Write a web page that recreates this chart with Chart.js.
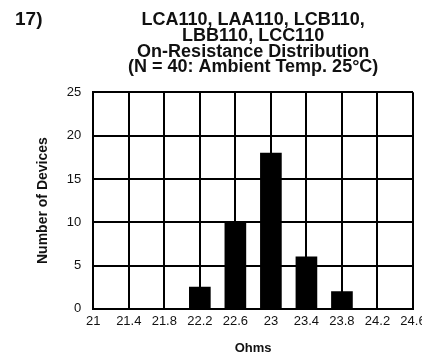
<!DOCTYPE html>
<html lang="en">
<head>
    <meta charset="UTF-8">
    <title>On-Resistance Distribution</title>
    <script src="https://cdn.jsdelivr.net/npm/chart.js"></script>
    <style>
        html, body { margin: 0; padding: 0; background: #fff; }
        #wrap { position: relative; width: 422px; height: 358px; }
        #fig { position: absolute; left: 15px; top: 8px; font: bold 19px "Liberation Sans", Arial, sans-serif; color: #111; }
    </style>
</head>
<body>
    <div id="wrap">
        <canvas id="distChart" width="422" height="358"></canvas>
        <div id="fig">17)</div>
    </div>

    <script>
        // ohms bins and device counts
        const ohms = [22.2, 22.6, 23.0, 23.4, 23.8];
        const devices = [2.5, 10, 18, 6, 2];
        const xMin = 21, xMax = 24.6, xStep = 0.4;
        const yMax = 25, yStep = 5;
        const titleLines = [
            'LCA110, LAA110, LCB110,',
            'LBB110, LCC110',
            'On-Resistance Distribution',
            '(N = 40: Ambient Temp. 25°C)'
        ];

        const font = '"Liberation Sans", Arial, Helvetica, sans-serif';

        new Chart(document.getElementById('distChart'), {
            type: 'bar',
            data: {
                datasets: [{
                    data: ohms.map((x, i) => ({ x: x, y: devices[i] })),
                    backgroundColor: '#000',
                    borderWidth: 0,
                    barThickness: 21
                }]
            },
            options: {
                responsive: false,
                animation: false,
                layout: { padding: { left: 34, right: 9, bottom: 2 } },
                plugins: {
                    legend: { display: false },
                    tooltip: { enabled: false },
                    title: {
                        display: true,
                        fullSize: false,
                        text: titleLines,
                        color: '#111',
                        font: { family: font, size: 18, weight: 'bold', lineHeight: 0.88 },
                        padding: { top: 12, bottom: 17 }
                    }
                },
                scales: {
                    x: {
                        type: 'linear',
                        min: xMin,
                        max: xMax,
                        offset: false,
                        grid: { offset: false, color: '#000', lineWidth: 2, drawTicks: false },
                        border: { color: '#000', width: 2 },
                        ticks: {
                            stepSize: xStep,
                            color: '#111',
                            padding: 5,
                            maxRotation: 0,
                            autoSkip: false,
                            font: { family: font, size: 13 },
                            callback: v => String(Math.round(v * 10) / 10)
                        },
                        title: {
                            display: true,
                            text: 'Ohms',
                            color: '#111',
                            font: { family: font, size: 13, weight: 'bold' },
                            padding: { top: 6, bottom: 0 }
                        },
                        afterFit: s => { s.paddingRight = 0; s.paddingLeft = 0; }
                    },
                    y: {
                        min: 0,
                        max: yMax,
                        grid: { color: '#000', lineWidth: 2, drawTicks: false },
                        border: { color: '#000', width: 2 },
                        ticks: {
                            stepSize: yStep,
                            color: '#111',
                            padding: 12,
                            font: { family: font, size: 13 }
                        },
                        title: {
                            display: true,
                            text: 'Number of Devices',
                            color: '#111',
                            font: { family: font, size: 14, weight: 'bold' },
                            padding: { top: 1, bottom: 3 }
                        }
                    }
                }
            }
        });
    </script>
</body>
</html>
